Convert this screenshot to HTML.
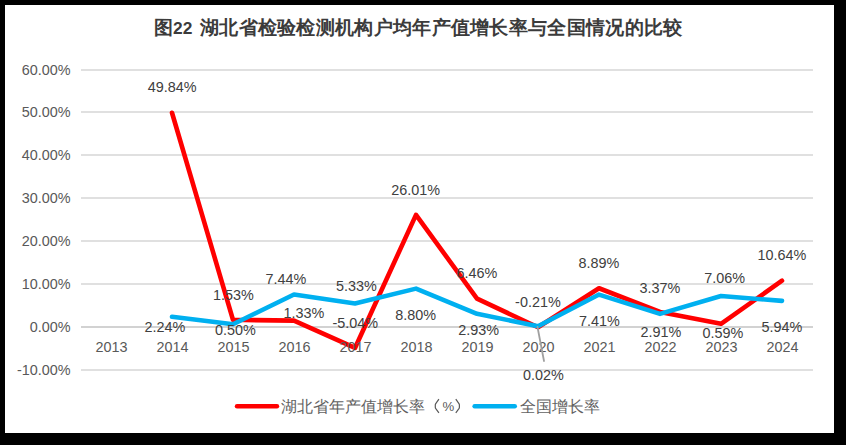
<!DOCTYPE html>
<html><head><meta charset="utf-8">
<style>
html,body{margin:0;padding:0;background:#000;width:846px;height:445px;overflow:hidden}
#card{position:absolute;left:5px;top:5px;width:829px;height:428px;background:#fff}
svg{position:absolute;left:0;top:0}
.ax,.dl{font-family:"Liberation Sans",sans-serif;font-size:14.4px;fill:#595959}
.dl{fill:#404040}
.ttl{position:absolute;top:14.6px;height:26px;line-height:26px;font-family:"Liberation Sans",sans-serif;font-size:19px;font-weight:bold;color:#3b3b3b;white-space:nowrap}
#legend{position:absolute;left:0;top:396.7px;height:22px;font-family:"Liberation Sans",sans-serif;font-size:16px;color:#626262;white-space:nowrap}
</style></head><body>
<div id="card"></div>
<svg width="846" height="445" viewBox="0 0 846 445">
<line x1="81" y1="70.00" x2="813" y2="70.00" stroke="#e0e0e0" stroke-width="2"/>
<line x1="81" y1="112.00" x2="813" y2="112.00" stroke="#e0e0e0" stroke-width="2"/>
<line x1="81" y1="155.00" x2="813" y2="155.00" stroke="#e0e0e0" stroke-width="2"/>
<line x1="81" y1="198.00" x2="813" y2="198.00" stroke="#e0e0e0" stroke-width="2"/>
<line x1="81" y1="241.00" x2="813" y2="241.00" stroke="#e0e0e0" stroke-width="2"/>
<line x1="81" y1="284.00" x2="813" y2="284.00" stroke="#e0e0e0" stroke-width="2"/>
<line x1="81" y1="327.00" x2="813" y2="327.00" stroke="#d2d2d2" stroke-width="2"/>
<line x1="81" y1="370.00" x2="813" y2="370.00" stroke="#e0e0e0" stroke-width="2"/>
<text x="70.5" y="74.60" text-anchor="end" class="ax">60.00%</text>
<text x="70.5" y="116.60" text-anchor="end" class="ax">50.00%</text>
<text x="70.5" y="159.60" text-anchor="end" class="ax">40.00%</text>
<text x="70.5" y="202.60" text-anchor="end" class="ax">30.00%</text>
<text x="70.5" y="245.60" text-anchor="end" class="ax">20.00%</text>
<text x="70.5" y="288.60" text-anchor="end" class="ax">10.00%</text>
<text x="70.5" y="331.60" text-anchor="end" class="ax">0.00%</text>
<text x="70.5" y="374.60" text-anchor="end" class="ax">-10.00%</text>
<polyline points="172.00,112.74 233.00,319.78 294.00,320.64 355.00,347.94 416.00,214.87 477.00,298.65 538.00,327.24 599.00,288.24 660.00,311.90 721.00,323.81 782.00,280.74" fill="none" stroke="#ff0000" stroke-width="4.6" stroke-linejoin="round" stroke-linecap="round"/>
<polyline points="172.00,316.74 233.00,324.20 294.00,294.45 355.00,303.50 416.00,288.63 477.00,313.78 538.00,326.25 599.00,294.58 660.00,313.87 721.00,296.08 782.00,300.88" fill="none" stroke="#00b0f0" stroke-width="4.6" stroke-linejoin="round" stroke-linecap="round"/>
<text x="111.50" y="352" text-anchor="middle" class="ax">2013</text>
<text x="172.50" y="352" text-anchor="middle" class="ax">2014</text>
<text x="233.50" y="352" text-anchor="middle" class="ax">2015</text>
<text x="294.50" y="352" text-anchor="middle" class="ax">2016</text>
<text x="355.50" y="352" text-anchor="middle" class="ax">2017</text>
<text x="416.50" y="352" text-anchor="middle" class="ax">2018</text>
<text x="477.50" y="352" text-anchor="middle" class="ax">2019</text>
<text x="538.50" y="352" text-anchor="middle" class="ax">2020</text>
<text x="599.50" y="352" text-anchor="middle" class="ax">2021</text>
<text x="660.50" y="352" text-anchor="middle" class="ax">2022</text>
<text x="721.50" y="352" text-anchor="middle" class="ax">2023</text>
<text x="782.50" y="352" text-anchor="middle" class="ax">2024</text>
<line x1="537.5" y1="327" x2="544" y2="361" stroke="#a0a0a0" stroke-width="1.8" stroke-linecap="round"/>
<text x="172.2" y="91.8" text-anchor="middle" class="dl">49.84%</text>
<text x="233.5" y="299.9" text-anchor="middle" class="dl">1.53%</text>
<text x="303.8" y="317.8" text-anchor="middle" class="dl">1.33%</text>
<text x="355.2" y="327.7" text-anchor="middle" class="dl">-5.04%</text>
<text x="415.7" y="195.2" text-anchor="middle" class="dl">26.01%</text>
<text x="476.9" y="277.7" text-anchor="middle" class="dl">6.46%</text>
<text x="537.9" y="306.8" text-anchor="middle" class="dl">-0.21%</text>
<text x="598.8" y="268.2" text-anchor="middle" class="dl">8.89%</text>
<text x="659.8" y="292.5" text-anchor="middle" class="dl">3.37%</text>
<text x="722.8" y="337.8" text-anchor="middle" class="dl">0.59%</text>
<text x="781.8" y="260.2" text-anchor="middle" class="dl">10.64%</text>
<text x="164.8" y="331.8" text-anchor="middle" class="dl">2.24%</text>
<text x="235.3" y="334.6" text-anchor="middle" class="dl">0.50%</text>
<text x="285.9" y="284.1" text-anchor="middle" class="dl">7.44%</text>
<text x="356.5" y="290.9" text-anchor="middle" class="dl">5.33%</text>
<text x="415.6" y="319.9" text-anchor="middle" class="dl">8.80%</text>
<text x="478.6" y="335.4" text-anchor="middle" class="dl">2.93%</text>
<text x="543.4" y="380" text-anchor="middle" class="dl">0.02%</text>
<text x="599.3" y="325.9" text-anchor="middle" class="dl">7.41%</text>
<text x="661" y="337" text-anchor="middle" class="dl">2.91%</text>
<text x="724.6" y="283.1" text-anchor="middle" class="dl">7.06%</text>
<text x="781.8" y="332.1" text-anchor="middle" class="dl">5.94%</text>
<path d="M438.9 399.2 L435.6 403.9 Q435.3 404.4 435.3 405 L435.3 407.3 Q435.3 407.9 435.6 408.4 L438.9 412.8" fill="none" stroke="#595959" stroke-width="1.2"/>
<path d="M455.8 399.2 L459.1 403.9 Q459.4 404.4 459.4 405 L459.4 407.3 Q459.4 407.9 459.1 408.4 L455.8 412.8" fill="none" stroke="#595959" stroke-width="1.2"/>
<line x1="237" y1="406.3" x2="277" y2="406.3" stroke="#ff0000" stroke-width="4.4" stroke-linecap="round"/>
<line x1="474.6" y1="406.3" x2="514.8" y2="406.3" stroke="#00b0f0" stroke-width="4.4" stroke-linecap="round"/>
</svg>
<div class="ttl" style="left:154px">图<span style="font-size:17.4px">22</span></div>
<div class="ttl" style="left:200px;letter-spacing:0.3px">湖北省检验检测机构户均年产值增长率与全国情况的比较</div>
<div id="legend" style="left:281px">湖北省年产值增长率</div>
<div style="position:absolute;left:442.4px;top:399.4px;font-family:'Liberation Sans',sans-serif;font-size:13.2px;line-height:16px;color:#595959">%</div>
<div id="legend2" style="position:absolute;left:519.5px;top:396.7px;height:22px;font-family:'Liberation Sans',sans-serif;font-size:16px;color:#626262;white-space:nowrap">全国增长率</div>
</body></html>
